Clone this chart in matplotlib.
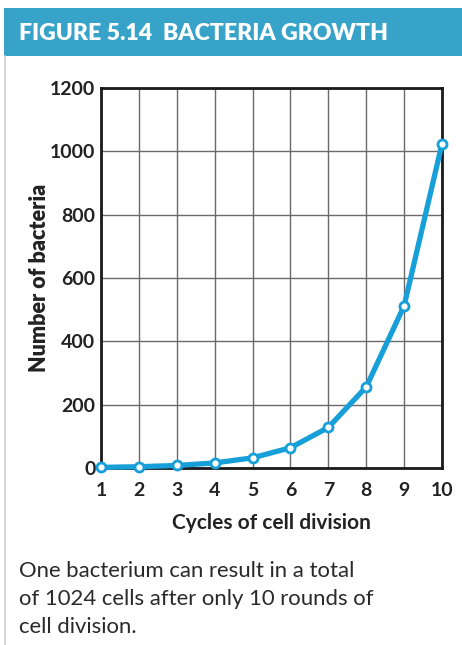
import matplotlib
matplotlib.use("Agg")
import matplotlib.pyplot as plt
from matplotlib.patches import Rectangle
from matplotlib.lines import Line2D

# Data: number of bacteria after each cycle of cell division
cycles = [1, 2, 3, 4, 5, 6, 7, 8, 9, 10]
bacteria = [2, 4, 8, 16, 32, 64, 128, 256, 512, 1024]
x_ticks = [1, 2, 3, 4, 5, 6, 7, 8, 9, 10]
y_ticks = [0, 200, 400, 600, 800, 1000, 1200]

title = "FIGURE 5.14  BACTERIA GROWTH"
x_label = "Cycles of cell division"
y_label = "Number of bacteria"
caption = ["One bacterium can result in a total",
           "of 1024 cells after only 10 rounds of",
           "cell division."]

W, H = 462, 645
fig = plt.figure(figsize=(W / 100, H / 100), dpi=100)
fig.patch.set_facecolor("white")

font = "Lato"
blue = "#169fd9"
header = "#38a3c8"
ink = "#222222"

# Header band and left border
fig.add_artist(Rectangle((4 / W, 1 - 56 / H), 1 - 4 / W, 48 / H,
                         transform=fig.transFigure, facecolor=header,
                         edgecolor="none"))
fig.add_artist(Line2D([4.5 / W, 4.5 / W], [0, 1 - 56 / H],
                      transform=fig.transFigure, color="#cfcfcf", lw=1.2))
fig.text(19 / W, 1 - 33 / H, title, color="white", fontsize=16.6,
         fontweight="heavy", family=font, va="center", ha="left")

# Plot area
left, right, top, bottom = 101, 442, 88, 468
ax = fig.add_axes([left / W, 1 - bottom / H, (right - left) / W,
                   (bottom - top) / H])
ax.set_xlim(1, 10)
ax.set_ylim(0, 1200)
ax.set_xticks(x_ticks)
ax.set_yticks(y_ticks)
ax.set_xticklabels([str(v) for v in x_ticks], family=font,
                   fontweight="bold", fontsize=14, color=ink)
ax.set_yticklabels([str(v) for v in y_ticks], family=font,
                   fontweight="bold", fontsize=14, color=ink)
ax.tick_params(axis="x", length=0, pad=10)
ax.tick_params(axis="y", length=0, pad=4)
ax.grid(True, color="#6a6a6a", lw=1.0)
ax.set_axisbelow(True)
for s in ax.spines.values():
    s.set_linewidth(2.0)
    s.set_color("#1a1a1a")

ax.plot(cycles, bacteria, color=blue, lw=3.8, marker="o", ms=6.5,
        markerfacecolor="white", markeredgecolor=blue, markeredgewidth=2.0,
        clip_on=False, zorder=5)

ax.set_xlabel(x_label, family=font, fontweight="bold", fontsize=15,
              color=ink, labelpad=10)
ax.set_ylabel(y_label, family=font, fontweight="heavy", fontsize=15.5,
              color=ink, labelpad=0)

# Caption below the chart
for i, line in enumerate(caption):
    fig.text(19 / W, 1 - (571 + 28 * i) / H, line, family=font,
             fontsize=15.9, color="#2a2a2a", va="center", ha="left")

fig.savefig("out.png", dpi=100)
